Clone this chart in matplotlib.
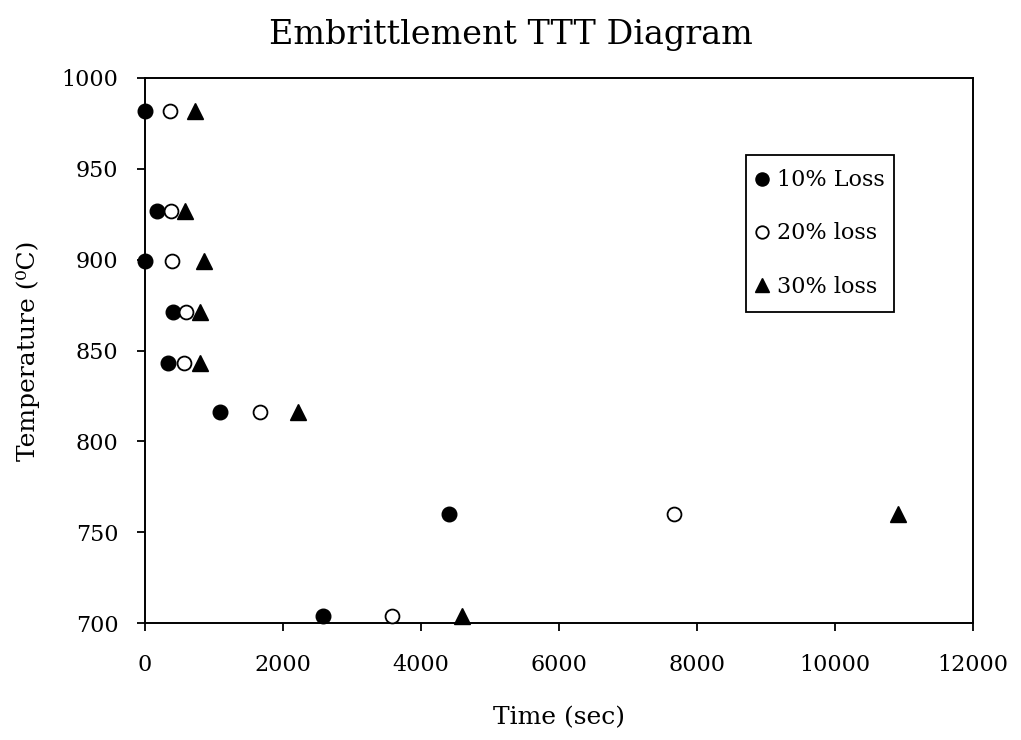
import matplotlib
matplotlib.use("Agg")
import matplotlib.pyplot as plt
from matplotlib.patches import Rectangle

plt.rcParams['font.family'] = ['DejaVu Serif']

# Temperatures (deg C) for each row of points
temps = [982, 927, 899, 871, 843, 816, 760, 704]

# Time (sec) to reach each loss level
time_10 = [0, 180, 0, 400, 330, 1080, 4400, 2580]
time_20 = [360, 380, 390, 600, 570, 1670, 7660, 3580]
time_30 = [720, 580, 850, 790, 790, 2220, 10920, 4600]

fig = plt.figure(figsize=(10.21, 7.40), dpi=100)
ax = fig.add_axes([145 / 1021, 1 - 623 / 740, (973 - 145) / 1021, (623 - 78) / 740])

ax.plot(time_10, temps, 'o', color='black', markersize=10.5, linestyle='none',
        label='10% Loss', clip_on=False, zorder=3)
ax.plot(time_20, temps, 'o', markerfacecolor='white', markeredgecolor='black',
        markeredgewidth=1.3, markersize=10, linestyle='none', label='20% loss',
        clip_on=False, zorder=3)
ax.plot(time_30, temps, '^', color='black', markersize=11, linestyle='none',
        label='30% loss', clip_on=False, zorder=3)

ax.set_xlim(0, 12000)
ax.set_ylim(700, 1000)
ax.set_xticks(range(0, 12001, 2000))
ax.set_yticks(range(700, 1001, 50))
ax.tick_params(axis='both', labelsize=16, direction='out', length=6, width=1.3)
ax.tick_params(axis='x', pad=16)
ax.tick_params(axis='y', pad=13)
for s in ax.spines.values():
    s.set_linewidth(1.4)

ax.set_xlabel('Time (sec)', fontsize=18, va='center')
ax.xaxis.set_label_coords(0.5, (623 - 718) / 545)
ax.set_ylabel('Temperature (\u2070C)', fontsize=18, va='center')
ax.yaxis.set_label_coords((28 - 145) / 828, 0.5)
fig.suptitle('Embrittlement TTT Diagram', fontsize=24, y=1 - 35 / 740, va='center')

# legend box drawn separately so the padding can be taller than it is wide
bx0, bx1 = (746 - 145) / 828, (894 - 145) / 828
by0, by1 = 1 - (312 - 78) / 545, 1 - (155 - 78) / 545
ax.add_patch(Rectangle((bx0, by0), bx1 - bx0, by1 - by0, transform=ax.transAxes,
                       facecolor='white', edgecolor='black', linewidth=1.3,
                       zorder=4, clip_on=False))
leg = ax.legend(loc='center', bbox_to_anchor=((bx0 + bx1) / 2, (by0 + by1) / 2),
                fontsize=16, markerscale=0.9, handlelength=0.55,
                handletextpad=0.4, labelspacing=1.4, borderpad=0.0,
                frameon=False, borderaxespad=0)
leg.set_zorder(5)

fig.savefig('out.png', dpi=100)
